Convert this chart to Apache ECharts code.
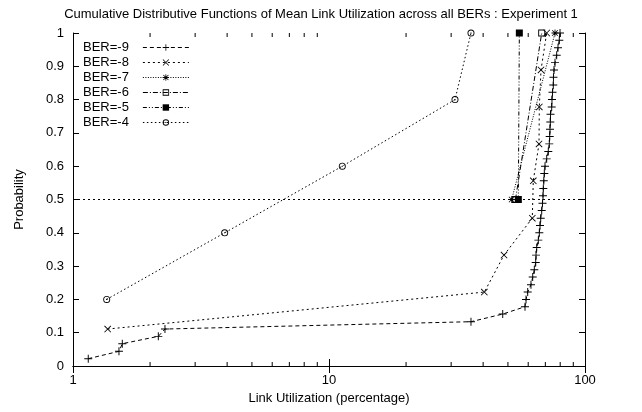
<!DOCTYPE html>
<html>
<head>
<meta charset="utf-8">
<script src="https://cdn.jsdelivr.net/npm/echarts@6/dist/echarts.min.js"></script>
<style>
  html, body { margin: 0; padding: 0; background: #fff; }
  #chart { width: 642px; height: 412px; }
</style>
</head>
<body>
<div id="chart"></div>
<script>
// link utilization (percentage) and cumulative probability, one pair per BER
var ber9X = [1.147, 1.512, 1.558, 2.154, 2.287, 35.86, 47.71, 58.30, 58.83, 59.73, 61.52, 62.48, 63.39, 64.19, 64.37,
  64.78, 65.71, 66.31, 66.72, 67.14, 67.75, 68.23, 68.54, 68.73, 69.03, 69.35, 69.79, 70.86, 71.88, 72.53,
  72.80, 72.98, 73.2, 73.34, 74.12, 74.3, 74.65, 75.18, 75.3, 75.67, 76.35, 77.52, 78.44, 79.36, 79.88];
var ber9Y = [0.022, 0.044, 0.067, 0.089, 0.111, 0.133, 0.156, 0.178, 0.2, 0.222, 0.244, 0.267, 0.289, 0.311, 0.333,
  0.356, 0.378, 0.4, 0.422, 0.444, 0.467, 0.489, 0.511, 0.533, 0.556, 0.578, 0.6, 0.622, 0.644, 0.667,
  0.689, 0.711, 0.733, 0.756, 0.778, 0.8, 0.822, 0.844, 0.867, 0.889, 0.911, 0.933, 0.956, 0.978, 1];
var ber8X = [1.366, 40.43, 48.27, 62.25, 62.8, 66.12, 66.3, 67.32, 70.86];
var ber8Y = [0.111, 0.222, 0.333, 0.444, 0.556, 0.667, 0.778, 0.889, 1];
var ber7X = [51.72, 76.35];
var ber7Y = [0.5, 1];
var ber6X = [53.5, 67.75];
var ber6Y = [0.5, 1];
var ber5X = [54.9, 55.4];
var ber5Y = [0.5, 1];
var ber4X = [1.354, 3.913, 11.27, 31.06, 35.86];
var ber4Y = [0.2, 0.4, 0.6, 0.8, 1];

var names = ['BER=-9', 'BER=-8', 'BER=-7', 'BER=-6', 'BER=-5', 'BER=-4'];
var minorTicks = [2, 3, 4, 5, 6, 7, 8, 9, 20, 30, 40, 50, 60, 70, 80, 90];
var refLine = 0.5;

function pairs(xs, ys) {
  var out = [];
  for (var i = 0; i < xs.length; i++) out.push([xs[i], ys[i]]);
  return out;
}

// gnuplot-ish point shapes
var plusPath = 'path://M0,4.4H10V5.6H0Z M4.4,0H5.6V10H4.4Z';
var crossPath = 'path://M0,0.85L0.85,0L10,9.15L9.15,10Z M9.15,0L10,0.85L0.85,10L0,9.15Z';
var starPath = 'path://M0,4.4H10V5.6H0Z M4.4,0H5.6V10H4.4Z M0.6,1.4L1.4,0.6L9.4,8.6L8.6,9.4Z M8.6,0.6L9.4,1.4L1.4,9.4L0.6,8.6Z';
var boxPath = 'path://M0,0H10V10H0Z M1.3,1.3V8.7H8.7V1.3Z';
var dotCirclePath = 'path://M5,0A5,5 0 1,1 5,10A5,5 0 1,1 5,0Z M5,1.3A3.7,3.7 0 1,0 5,8.7A3.7,3.7 0 1,0 5,1.3Z M4.2,4.2H5.8V5.8H4.2Z';

var fontFamily = '"Liberation Sans", Arial, sans-serif';

function lineSeries(name, data, symbol, size, dash) {
  return {
    name: name,
    type: 'line',
    data: data,
    symbol: symbol,
    symbolSize: size,
    showAllSymbol: true,
    animation: false,
    itemStyle: { color: '#000' },
    lineStyle: { color: '#000', width: 1, type: dash }
  };
}

var chart = echarts.init(document.getElementById('chart'));

var series = [
  lineSeries(names[0], pairs(ber9X, ber9Y), plusPath, 8, [4, 3]),
  lineSeries(names[1], pairs(ber8X, ber8Y), crossPath, 7, [2, 3]),
  lineSeries(names[2], pairs(ber7X, ber7Y), starPath, 7, [1, 1.5]),
  lineSeries(names[3], pairs(ber6X, ber6Y), boxPath, 7, [5, 2, 1, 2]),
  lineSeries(names[4], pairs(ber5X, ber5Y), 'rect', 7, [4, 2, 1, 2, 1, 2]),
  lineSeries(names[5], pairs(ber4X, ber4Y), dotCirclePath, 7, [1.5, 2.5])
];

// dotted reference line at probability 0.5
series[0].markLine = {
  silent: true,
  symbol: ['none', 'none'],
  label: { show: false },
  lineStyle: { color: '#000', width: 1, type: [2, 3] },
  data: [{ yAxis: refLine }]
};

// minor ticks of the log axis, bottom and top
series.push({
  type: 'custom',
  silent: true,
  xAxisIndex: 0,
  yAxisIndex: 0,
  data: minorTicks.map(function (v) { return [v, 0]; }),
  renderItem: function (params, api) {
    var x = api.coord([api.value(0), 0])[0];
    var cs = params.coordSys;
    return {
      type: 'group',
      children: [
        { type: 'line', shape: { x1: x, y1: cs.y + cs.height, x2: x, y2: cs.y + cs.height - 4 }, style: { stroke: '#000', lineWidth: 1 } },
        { type: 'line', shape: { x1: x, y1: cs.y, x2: x, y2: cs.y + 4 }, style: { stroke: '#000', lineWidth: 1 } }
      ]
    };
  }
});

var option = {
  backgroundColor: '#fff',
  animation: false,
  textStyle: { fontFamily: fontFamily, color: '#000' },
  title: {
    text: 'Cumulative Distributive Functions of Mean Link Utilization across all BERs : Experiment 1',
    left: 'center',
    top: 3,
    textStyle: { fontSize: 13, fontWeight: 'normal', color: '#000', fontFamily: fontFamily }
  },
  legend: {
    data: names,
    orient: 'vertical',
    left: 78,
    top: 36,
    align: 'right',
    itemGap: 2,
    itemWidth: 46,
    itemHeight: 8,
    lineStyle: { width: 1 },
    textStyle: { fontSize: 13, color: '#000', fontFamily: fontFamily, padding: [0, 9, 0, 0] }
  },
  grid: { left: 73, right: 57, top: 33, bottom: 46 },
  xAxis: [{
    type: 'log',
    logBase: 10,
    min: 1,
    max: 100,
    name: 'Link Utilization (percentage)',
    nameLocation: 'middle',
    nameGap: 24,
    nameTextStyle: { fontSize: 13, color: '#000', fontFamily: fontFamily },
    axisLine: { lineStyle: { color: '#000', width: 1 } },
    axisTick: { inside: true, length: 7, lineStyle: { color: '#000' } },
    axisLabel: { color: '#000', fontSize: 13, margin: 8 },
    splitLine: { show: false }
  }, {
    type: 'log',
    logBase: 10,
    min: 1,
    max: 100,
    position: 'top',
    axisLine: { lineStyle: { color: '#000', width: 1 } },
    axisTick: { inside: true, length: 7, lineStyle: { color: '#000' } },
    axisLabel: { show: false },
    splitLine: { show: false }
  }],
  yAxis: [{
    type: 'value',
    min: 0,
    max: 1,
    interval: 0.1,
    name: 'Probability',
    nameLocation: 'middle',
    nameGap: 47,
    nameTextStyle: { fontSize: 13, color: '#000', fontFamily: fontFamily },
    axisLine: { show: true, lineStyle: { color: '#000', width: 1 } },
    axisTick: { show: true, inside: true, length: 6, lineStyle: { color: '#000' } },
    axisLabel: { color: '#000', fontSize: 13, margin: 9 },
    splitLine: { show: false }
  }, {
    type: 'value',
    min: 0,
    max: 1,
    interval: 0.1,
    position: 'right',
    axisLine: { show: true, lineStyle: { color: '#000', width: 1 } },
    axisTick: { show: true, inside: true, length: 6, lineStyle: { color: '#000' } },
    axisLabel: { show: false },
    splitLine: { show: false }
  }],
  series: series
};

chart.setOption(option);
</script>
</body>
</html>
